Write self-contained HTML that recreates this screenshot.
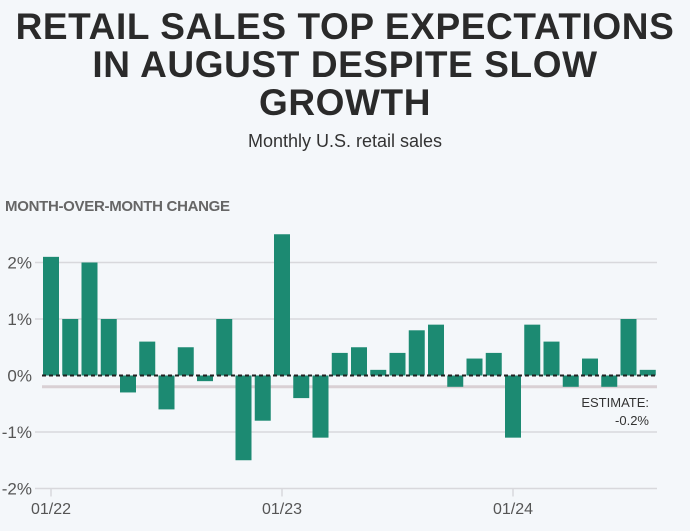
<!DOCTYPE html>
<html><head><meta charset="utf-8"><style>
html,body{margin:0;padding:0;background:#f4f7fa;}
body{width:690px;height:531px;position:relative;overflow:hidden;font-family:"Liberation Sans",sans-serif;}
.t{position:absolute;left:0;width:690px;text-align:center;font-weight:bold;font-size:37px;line-height:38px;color:#2a2a2a;top:8px;letter-spacing:0.6px;}
.s{position:absolute;left:0;width:690px;text-align:center;font-size:18px;color:#333;top:131px;}
.yl{position:absolute;left:5px;top:198px;font-weight:bold;font-size:15px;color:#666;letter-spacing:-0.3px;}
svg{position:absolute;left:0;top:0;}
</style></head><body>
<div class="t">RETAIL SALES TOP EXPECTATIONS<br>IN AUGUST DESPITE SLOW<br>GROWTH</div>
<div class="s">Monthly U.S. retail sales</div>
<div class="yl">MONTH-OVER-MONTH CHANGE</div>
<svg id="c" width="690" height="531"></svg>
<script>
const values=[2.1,1.0,2.0,1.0,-0.3,0.6,-0.6,0.5,-0.1,1.0,-1.5,-0.8,2.5,-0.4,-1.1,0.4,0.5,0.1,0.4,0.8,0.9,-0.2,0.3,0.4,-1.1,0.9,0.6,-0.2,0.3,-0.2,1.0,0.1];
const yTicks=[2,1,0,-1,-2];
const xTickIdx=[0,12,24];
const xTickLabels=["01/22","01/23","01/24"];
const estimate=-0.2;
const ns="http://www.w3.org/2000/svg";
const svg=document.getElementById('c');
const y=v=>375.5-v*56.5;
const x=i=>51+i*19.25;
function mk(t,a){const e=document.createElementNS(ns,t);for(const k in a)e.setAttribute(k,a[k]);svg.appendChild(e);return e;}
yTicks.forEach(v=>{
 if(v!==0){const g=mk('line',{x1:35,x2:657,y1:y(v),y2:y(v),stroke:'#d8d8dc','stroke-width':1.5});
 
 }
 const t=mk('text',{x:32,y:y(v)+6,'text-anchor':'end','font-size':17,fill:'#555','font-family':'Liberation Sans, sans-serif'});
 t.textContent=v+'%';
 
 
});
const el=mk('line',{x1:42,x2:657,y1:y(estimate),y2:y(estimate),stroke:'#d9d0d4','stroke-width':3});


values.forEach((v,i)=>{
 const r=mk('rect',{x:x(i)-8,width:16,y:Math.min(y(v),y(0)),height:Math.abs(y(v)-y(0)),fill:'#1c8a72'});
 
 
});
const z=mk('line',{x1:42,x2:657,y1:y(0),y2:y(0),stroke:'#222','stroke-width':2,'stroke-dasharray':'4,3'});


xTickIdx.forEach((idx,k)=>{
 const tk=mk('line',{x1:x(idx),x2:x(idx),y1:y(-2),y2:y(-2)+8,stroke:'#d8d8dc','stroke-width':1.5});
 
 
 const t=mk('text',{x:x(idx),y:514,'text-anchor':'middle','font-size':16,fill:'#555','font-family':'Liberation Sans, sans-serif'});
 t.textContent=xTickLabels[k];
 
 
});
const e1=mk('text',{x:649,y:407,'text-anchor':'end','font-size':13,fill:'#333','font-family':'Liberation Sans, sans-serif'});
e1.textContent='ESTIMATE:';


const e2=mk('text',{x:649,y:425,'text-anchor':'end','font-size':13,fill:'#333','font-family':'Liberation Sans, sans-serif'});
e2.textContent=estimate+'%';


</script>
</body></html>
